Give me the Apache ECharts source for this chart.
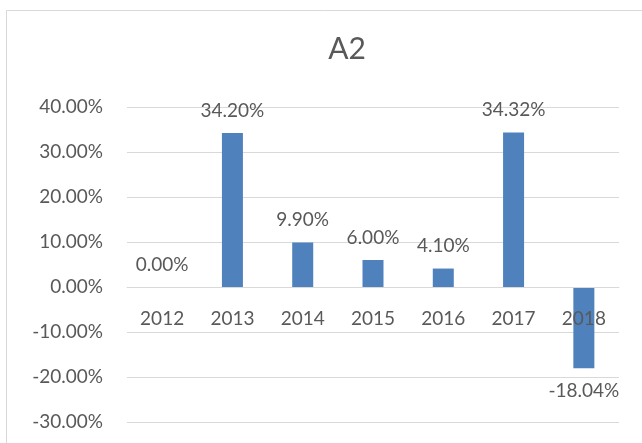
<!DOCTYPE html>
<html>
<head>
<meta charset="utf-8">
<script src="https://cdn.jsdelivr.net/npm/echarts@6/dist/echarts.min.js"></script>
<style>
html,body{margin:0;padding:0;background:#fff;}
#c{width:642px;height:443px;}
</style>
</head>
<body>
<div id="c"></div>
<script>
const categories = ['2012','2013','2014','2015','2016','2017','2018'];
const values = [0, 34.20, 9.90, 6.00, 4.10, 34.32, -18.04];
const titleText = 'A2';

const yMin = -30, yMax = 40;
const gridTop = 107, gridBottom = 21, H = 443;
const plotH = H - gridTop - gridBottom;
const zeroOffset = -plotH * (0 - yMin) / (yMax - yMin);

const chart = echarts.init(document.getElementById('c'), null, {renderer:'canvas'});
const font = 'Lato, "Open Sans", sans-serif';
chart.setOption({
  animation:false,
  backgroundColor:'#fff',
  title:{text:titleText,left:342,top:29,textAlign:'center',
    textStyle:{fontFamily:font,fontSize:30,fontWeight:'normal',color:'#595959'}},
  graphic:[{type:'rect',shape:{x:6.5,y:10.5,width:700,height:500},
    style:{fill:'none',stroke:'#d9d9d9',lineWidth:1},silent:true}],
  grid:{left:127,right:23,top:gridTop,bottom:gridBottom,containLabel:false},
  xAxis:{type:'category',data:categories,position:'bottom',offset:zeroOffset,
    axisLine:{onZero:false,lineStyle:{color:'#d9d9d9',width:1}},
    axisTick:{show:false},
    axisLabel:{color:'#595959',fontFamily:font,fontSize:19,margin:22},
    z:10},
  yAxis:{type:'value',min:yMin,max:yMax,interval:10,
    axisLine:{show:false},axisTick:{show:false},
    splitLine:{lineStyle:{color:'#d9d9d9',width:1}},
    axisLabel:{color:'#595959',fontFamily:font,fontSize:19,margin:24,
      formatter:v=>v.toFixed(2)+'%'}},
  series:[{type:'bar',barWidth:21,z:2,
    itemStyle:{color:'#4f81bd'},
    label:{show:true,position:'top',distance:13,color:'#595959',fontFamily:font,fontSize:19,
      formatter:p=>p.value.toFixed(2)+'%'},
    data:values.map(v=>({value:v,label:{position:v<0?'bottom':'top'}}))
  }]
});
</script>
</body>
</html>
